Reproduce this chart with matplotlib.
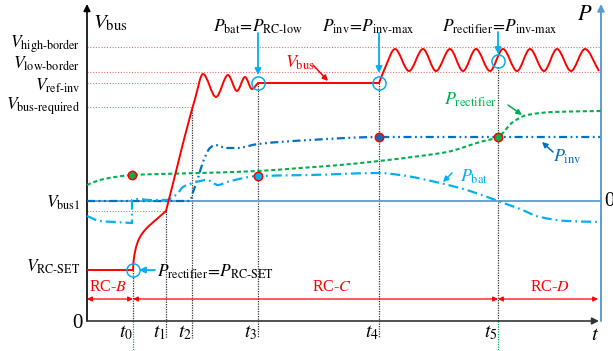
import numpy as np
import matplotlib
matplotlib.use("Agg")
import matplotlib.pyplot as plt
from matplotlib.path import Path
from matplotlib.patches import PathPatch

plt.rcParams["font.family"] = "serif"
plt.rcParams["font.serif"] = ["Liberation Serif", "DejaVu Serif"]
plt.rcParams["mathtext.fontset"] = "stix"

RED, GREEN, DBLUE, LBLUE, AXBLUE = "#ff0000", "#00b050", "#0070c0", "#00b0f0", "#5b9bd5"

# time instants t0..t5 and the end of the time axis
T = [46, 79, 105, 171, 292, 411]
T_NAMES = ["$t_0$", "$t_1$", "$t_2$", "$t_3$", "$t_4$", "$t_5$"]
T_END = 514

# bus voltage levels (left axis) and P = 0 (right axis)
V_HIGH, V_LOW, V_REF, V_REQ, V_BUS1, V_SET = 274, 249, 238, 214, 110, 51
P_ZERO = 120

# V_bus, piecewise
VBUS_SET_X, VBUS_SET_Y = [0, 46], [51, 51]
VBUS_CHG_X = [46, 46.5, 48, 50, 53, 58, 63, 71, 79]
VBUS_CHG_Y = [51, 59, 69, 77, 84, 91, 96, 103, 110]
VBUS_RISE_X = [79, 108, 116, 129, 141, 150, 158, 165, 171]
VBUS_RISE_Y = [110, 222, 247, 224, 246, 230, 244, 232, 238]
VBUS_HOLD_X, VBUS_HOLD_Y = [171, 292], [238, 238]
VBUS_OSC_X = [292, 298, 308, 322, 336, 349, 363, 376, 389, 403, 416, 430, 443, 457, 470, 484, 498, 512]
VBUS_OSC_Y = [238, 253, 272, 250, 272, 250, 272, 250, 272, 250, 272, 250, 272, 250, 272, 250, 272, 250]

# rectifier power
PREC_X = [0, 13, 28, 45, 73, 113, 171, 213, 253, 292, 333, 360, 393, 411, 426, 440, 466, 514]
PREC_Y = [136, 141, 144, 146, 147, 148, 150, 153, 156, 160, 165, 169, 179, 184, 199, 206, 209, 210]

# inverter power
PINV_X = [0, 103, 106, 111, 116, 123, 128, 140, 150, 171, 223, 292, 514]
PINV_Y = [120, 120, 129, 143, 159, 173, 176, 173, 173, 177, 181, 184, 184]

# battery power (steps up at t0)
PBAT_A_X, PBAT_A_Y = [0, 13, 28, 45], [105, 100, 99, 98]
PBAT_B_X = [45, 51, 63, 79, 90, 96, 106, 113, 120, 131, 140, 171, 223, 292, 313, 353, 383, 411, 433, 453, 480, 514]
PBAT_B_Y = [121, 122, 121, 121, 127, 134, 138, 140, 141, 136, 139, 145, 146, 148, 146, 138, 130, 120, 112, 104, 100, 99]


def smooth(xs, ys):
    """Monotone cubic Bezier path through the points (flat tangents at extrema)."""
    xs, ys = np.asarray(xs, float), np.asarray(ys, float)
    h = np.diff(xs)
    d = np.diff(ys) / h
    m = np.empty_like(xs)
    m[0], m[-1] = d[0], d[-1]
    for i in range(1, len(xs) - 1):
        if d[i - 1] * d[i] <= 0:
            m[i] = 0.0
        else:
            w1, w2 = 2 * h[i] + h[i - 1], h[i] + 2 * h[i - 1]
            m[i] = (w1 + w2) / (w1 / d[i - 1] + w2 / d[i])
    verts, codes = [(xs[0], ys[0])], [Path.MOVETO]
    for i in range(len(h)):
        verts += [(xs[i] + h[i] / 3, ys[i] + m[i] * h[i] / 3),
                  (xs[i + 1] - h[i] / 3, ys[i + 1] - m[i + 1] * h[i] / 3),
                  (xs[i + 1], ys[i + 1])]
        codes += [Path.CURVE4] * 3
    return Path(verts, codes)


def chain(*paths):
    """Join paths into one stroke so the dash pattern runs on."""
    verts, codes = [], []
    for k, p in enumerate(paths):
        c = list(p.codes)
        if k:
            c[0] = Path.LINETO
        verts += list(p.vertices)
        codes += c
    return Path(verts, codes)


def draw(ax, path, color, lw, ls="-", z=3):
    ax.add_patch(PathPatch(path, fill=False, ec=color, lw=lw, ls=ls, zorder=z,
                           capstyle="butt", joinstyle="round"))


def arrow(ax, start, end, color, lw=1.2, ms=9, style="-|>", z=6):
    ax.annotate("", xy=end, xytext=start,
                arrowprops=dict(arrowstyle=style, color=color, lw=lw, mutation_scale=ms,
                                shrinkA=0, shrinkB=0), zorder=z)


fig = plt.figure(figsize=(6.13, 3.51), dpi=100)
ax = fig.add_axes([0, 0, 1, 1])
ax.set_xlim(-87, 526)
ax.set_ylim(-30, 321)
ax.axis("off")

# reference levels
dot_red = dict(color="#e87070", lw=0.8, ls=(0, (1, 1.5)), zorder=1)
ax.plot([0, T_END], [V_HIGH, V_HIGH], **dot_red)
ax.plot([0, T_END], [V_LOW, V_LOW], **dot_red)
ax.plot([0, 113], [V_REF, V_REF], **dot_red)
ax.plot([0, T[2]], [V_REQ, V_REQ], **dot_red)
ax.plot([0, T[1]], [V_BUS1, V_BUS1], **dot_red)

# time markers
dot_k = dict(color="#333333", lw=0.9, ls=(0, (1, 1)), zorder=1)
ax.plot([T[0], T[0]], [V_SET, 0], **dot_k)
ax.plot([T[1], T[1]], [V_BUS1, -17], **dot_k)
ax.plot([T[2], T[2]], [V_REQ, -17], **dot_k)
ax.plot([T[3], T[3]], [V_REF, -17], **dot_k)
ax.plot([T[4], T[4]], [V_REF, -17], **dot_k)
ax.plot([T[5], T[5]], [254, 0], **dot_k)
for t in (T[0], T[5]):
    ax.plot([t, t], [0, -30], color=GREEN, lw=0.9, ls=(0, (1, 1)), zorder=1)

# axes
ax.plot([0, T_END], [P_ZERO, P_ZERO], color=AXBLUE, lw=1.3, zorder=2)
arrow(ax, (T_END, 0), (T_END, 317), AXBLUE, lw=1.4, ms=10, z=2)
arrow(ax, (0, 0), (0, 317), "black", lw=1.2, ms=10, z=2)
arrow(ax, (0, 0), (512, 0), "#333333", lw=1.2, ms=10, z=2)

# power curves
draw(ax, smooth(PREC_X, PREC_Y), GREEN, 1.5, (0, (2.0, 1.3)))
draw(ax, smooth(PINV_X, PINV_Y), DBLUE, 1.6, (0, (3.6, 1.6, 0.8, 1.6, 0.8, 1.6)))
draw(ax, chain(smooth(PBAT_A_X, PBAT_A_Y), smooth(PBAT_B_X, PBAT_B_Y)), LBLUE, 1.6,
     (0, (4.5, 1.8, 0.8, 1.8)))

# bus voltage
vbus = chain(smooth(VBUS_SET_X, VBUS_SET_Y), smooth(VBUS_CHG_X, VBUS_CHG_Y),
             smooth(VBUS_RISE_X, VBUS_RISE_Y), smooth(VBUS_HOLD_X, VBUS_HOLD_Y),
             smooth(VBUS_OSC_X, VBUS_OSC_Y))
draw(ax, vbus, RED, 1.4, "-", z=4)

# crossing points
ax.plot([45, T[5]], [146, 184], "o", ms=6, mfc=GREEN, mec=RED, mew=1.1, zorder=7)
ax.plot([T[4]], [184], "o", ms=6, mfc=DBLUE, mec=RED, mew=1.1, zorder=7)
ax.plot([T[3]], [145], "o", ms=6, mfc=LBLUE, mec=RED, mew=1.1, zorder=7)
ax.plot([T[0], T[3], T[4], T[5]], [V_SET, V_REF, V_REF, 260], "o", ms=9.5, mfc="none",
        mec=LBLUE, mew=1.1, zorder=7)

# event arrows
arrow(ax, (T[3], 288), (T[3], 246), LBLUE, lw=1.3)
arrow(ax, (T[4], 288), (T[4], 248), LBLUE, lw=1.3)
arrow(ax, (T[5], 289), (T[5], 267), LBLUE, lw=1.3)
arrow(ax, (68, V_SET), (52, V_SET), LBLUE, lw=1.3)

fs = 12.5
ax.text(6, 298, r"$V_{\text{bus}}$", fontsize=15, va="center")
ax.text(498, 306, r"$P$", fontsize=16, ha="center", va="center")
ax.text(-7, 277, r"$V_{\text{high-border}}$", fontsize=fs, ha="right", va="center")
ax.text(-7, 257, r"$V_{\text{low-border}}$", fontsize=fs, ha="right", va="center")
ax.text(-7, 235, r"$V_{\text{ref-inv}}$", fontsize=fs, ha="right", va="center")
ax.text(-7, 215, r"$V_{\text{bus-required}}$", fontsize=fs, ha="right", va="center")
ax.text(-7, 118, r"$V_{\text{bus1}}$", fontsize=fs, ha="right", va="center")
ax.text(-7, 54, r"$V_{\text{RC-SET}}$", fontsize=fs, ha="right", va="center")
ax.text(-10, -2, "0", fontsize=15, ha="center", va="center")
ax.text(517, P_ZERO, "0", fontsize=15, ha="left", va="center")
ax.text(508, -14, "$t$", fontsize=15, ha="center", va="center")
for t, name in zip(T, T_NAMES):
    ax.text(t - 7, -12, name, fontsize=14, ha="center", va="center")

ax.text(171, 294, r"$P_{\text{bat}}\!=\!P_{\text{RC-low}}$", fontsize=12.5, ha="center", va="center")
ax.text(281, 294, r"$P_{\text{inv}}\!=\!P_{\text{inv-max}}$", fontsize=12.5, ha="center", va="center")
ax.text(413, 294, r"$P_{\text{rectifier}}\!=\!P_{\text{inv-max}}$", fontsize=12.5, ha="center",
        va="center")
ax.text(70, 49, r"$P_{\text{rectifier}}\!=\!P_{\text{RC-SET}}$", fontsize=12.5, va="center")

# curve tags
ax.text(198, 258, r"$V_{\text{bus}}$", fontsize=13, color=RED, va="center")
arrow(ax, (226, 256), (241, 240), RED, lw=1.1, ms=8)
ax.text(357, 221, r"$P_{\text{rectifier}}$", fontsize=13, color=GREEN, va="center")
arrow(ax, (421, 216), (435, 206), GREEN, lw=1.1, ms=8)
ax.text(466, 164, r"$P_{\text{inv}}$", fontsize=13, color=DBLUE, va="center")
arrow(ax, (466, 169), (455, 179), DBLUE, lw=1.1, ms=8)
ax.text(373, 144, r"$P_{\text{bat}}$", fontsize=13, color=LBLUE, va="center")
arrow(ax, (365, 148), (356, 139), LBLUE, lw=1.1, ms=8)

# operating modes
for a, b in [(0, T[0]), (T[0], T[5]), (T[5], 511)]:
    arrow(ax, (a, 22), (b, 22), RED, lw=0.9, ms=7, style="<|-|>")
ax.text(21, 34, "RC-$B$", fontsize=11.5, color=RED, ha="center", va="center")
ax.text(245, 34, "RC-$C$", fontsize=11.5, color=RED, ha="center", va="center")
ax.text(463, 34, "RC-$D$", fontsize=11.5, color=RED, ha="center", va="center")

fig.savefig("out.png", dpi=100)
